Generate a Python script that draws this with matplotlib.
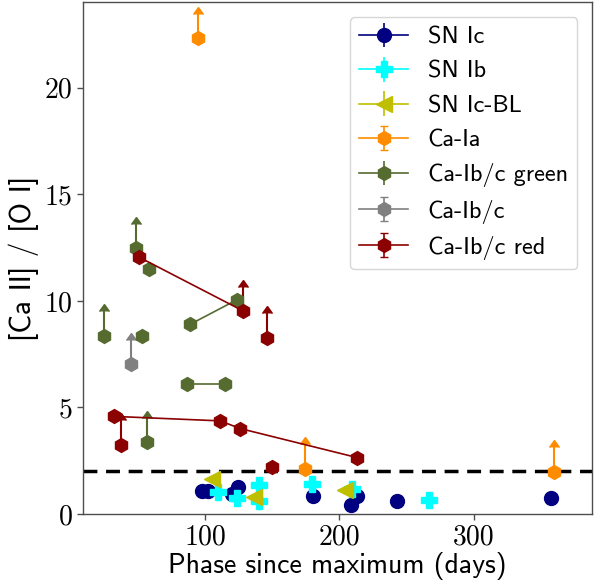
import matplotlib
matplotlib.use("Agg")
from matplotlib import pyplot as plt

# phase (days) and [Ca II]/[O I] per object; inner lists = one object (joined by a line)
ic_phase = [97.5, 102.0, 119.9, 124.6, 180.3, 208.4, 213.0, 242.8, 357.6]
ic_ratio = [1.09, 1.09, 0.95, 1.28, 0.86, 0.42, 0.83, 0.62, 0.75]

ib_phase = [109.9, 123.8, 140.2, 140.2, 179.5, 209.3, 266.4]
ib_ratio = [1.01, 0.75, 1.37, 0.62, 1.41, 1.17, 0.66]

icbl_phase = [105.0, 136.0, 204.3]
icbl_ratio = [1.64, 0.80, 1.12]

caia_phase = [[94.8], [174.5], [360.0]]
caia_ratio = [[22.33], [2.12], [1.98]]
caia_lolim = [[True], [True], [True]]

green_phase = [[24.8], [48.7], [52.8], [58.3], [56.6], [88.8, 123.6], [86.4, 114.9]]
green_ratio = [[8.37], [12.48], [8.37], [11.49], [3.36], [8.9, 10.05], [6.1, 6.1]]
green_lolim = [[True], [True], [False], [False], [True], [False, False], [False, False]]

gray_phase = [[44.6]]
gray_ratio = [[7.03]]
gray_lolim = [[True]]

red_phase = [[50.8, 128.5], [32.4, 111.2, 126.1, 213.0], [37.4], [146.0], [149.7]]
red_ratio = [[12.05, 9.52], [4.58, 4.37, 4.01, 2.65], [3.25], [8.28], [2.22]]
red_lolim = [[False, True], [False, False, False, False], [True], [True], [False]]

limit_len = 1.15

fig = plt.figure(figsize=(6.01, 5.81), dpi=100)
ax = fig.add_axes([0.138, 0.1153, 0.847, 0.8804])

ax.axhline(2, color='k', ls='--', lw=2.5, dashes=(4, 2.5), zorder=1)


def draw_obj(x, y, lolim, color, marker, label, ms=10, capsize=0):
    ax.errorbar(x, y, yerr=0.15, fmt=marker, ls='-', color=color, ms=ms,
                lw=1.2, capsize=capsize, label=label, zorder=3)
    lx = [a for a, l in zip(x, lolim) if l]
    ly = [b for b, l in zip(y, lolim) if l]
    if lx:
        eb = ax.errorbar(lx, ly, yerr=limit_len, lolims=True, fmt='none', ecolor=color,
                         elinewidth=1.5, capsize=3.5, zorder=2.5)
        for cl in eb[1]:
            cl.set_markerfacecolor(color)
            cl.set_markeredgecolor(color)


# single SNe, each point its own object
for i, (x, y) in enumerate(zip(ic_phase, ic_ratio)):
    draw_obj([x], [y], [False], 'navy', 'o', 'SN Ic' if i == 0 else None)
for i, (x, y) in enumerate(zip(ib_phase, ib_ratio)):
    draw_obj([x], [y], [False], 'cyan', 'P', 'SN Ib' if i == 0 else None, ms=11)
for i, (x, y) in enumerate(zip(icbl_phase, icbl_ratio)):
    draw_obj([x], [y], [False], 'y', '<', 'SN Ic-BL' if i == 0 else None, ms=11)

for i, (x, y, l) in enumerate(zip(caia_phase, caia_ratio, caia_lolim)):
    draw_obj(x, y, l, 'darkorange', 'h', 'Ca-Ia' if i == 0 else None, capsize=3)
for i, (x, y, l) in enumerate(zip(green_phase, green_ratio, green_lolim)):
    draw_obj(x, y, l, 'darkolivegreen', 'h', 'Ca-Ib/c green' if i == 0 else None)
for i, (x, y, l) in enumerate(zip(gray_phase, gray_ratio, gray_lolim)):
    draw_obj(x, y, l, 'gray', 'h', 'Ca-Ib/c' if i == 0 else None, capsize=3)
for i, (x, y, l) in enumerate(zip(red_phase, red_ratio, red_lolim)):
    draw_obj(x, y, l, 'darkred', 'h', 'Ca-Ib/c red' if i == 0 else None, capsize=3)

ax.set_xlim(9, 388)
ax.set_ylim(0, 24)
ax.set_xticks([100, 200, 300])
ax.set_yticks([0, 5, 10, 15, 20])
ax.tick_params(direction='out', length=4, width=1, colors='0.3', labelcolor='k', labelsize=20)
for lab in ax.get_xticklabels() + ax.get_yticklabels():
    lab.set_fontfamily('cmr10')
for sp in ax.spines.values():
    sp.set_color('0.3')
    sp.set_linewidth(1.0)

ax.set_xlabel('Phase since maximum (days)', fontsize=20, fontfamily='cmss10', labelpad=1)
ax.set_ylabel('[Ca II] / [O I]', fontsize=21, fontfamily='cmss10', labelpad=4)

ax.legend(loc='upper right', prop={'family': 'cmss10', 'size': 17.5}, borderaxespad=0.6)

plt.savefig('out.png', dpi=100)
